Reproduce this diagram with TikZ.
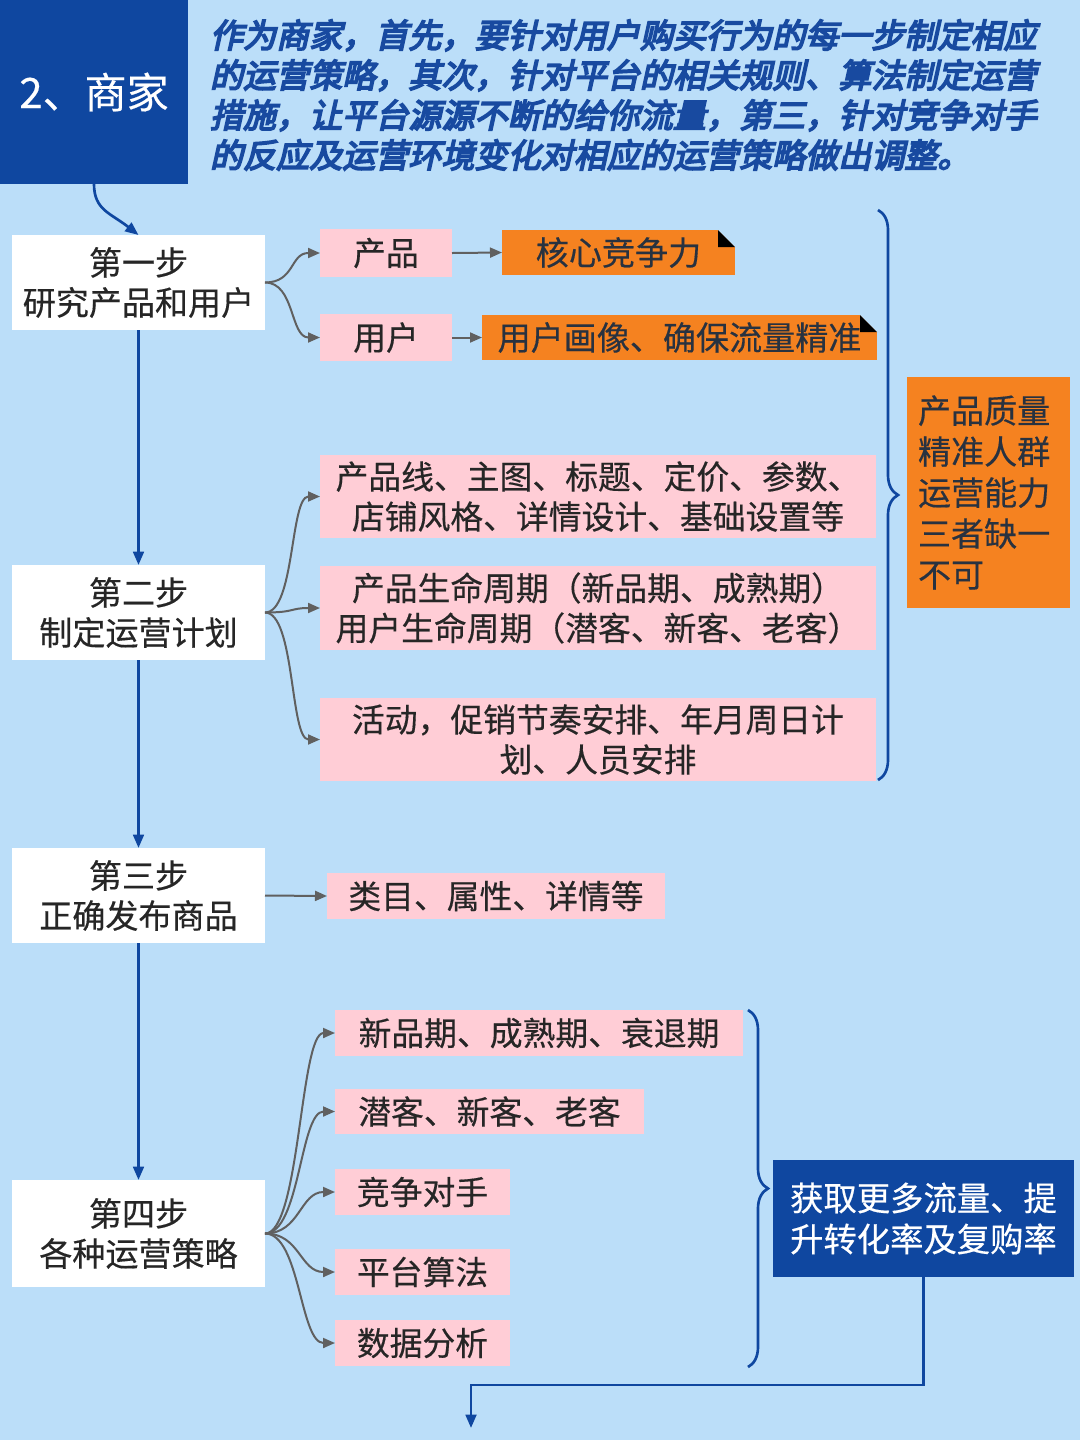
\documentclass[tikz,border=0pt]{standalone}
\usepackage{fontspec}
\newfontfamily\cjk{Noto Sans CJK SC}[FakeBold=0.4]
\newfontfamily\cjkhead{Noto Sans CJK SC}[FakeBold=5,FakeSlant=0.22]
\usetikzlibrary{arrows.meta,decorations.pathreplacing}
\newdimen\px \px=0.75pt
\definecolor{bgblue}{RGB}{187,222,249}
\definecolor{darkblue}{RGB}{15,71,160}
\definecolor{headtext}{RGB}{24,74,160}
\definecolor{pinkfill}{RGB}{255,205,214}
\definecolor{orangefill}{RGB}{245,130,32}
\definecolor{arrowgray}{RGB}{96,96,96}
\definecolor{textdark}{RGB}{38,38,38}
\definecolor{orangetext}{RGB}{40,50,64}
\tikzset{
  base/.style={inner sep=0pt, outer sep=0pt, align=center},
  hdrbox/.style={base, fill=darkblue, text=white, font=\cjk\fontsize{31.5}{36}\selectfont},
  hdrtext/.style={base, align=left, text=headtext, font=\cjkhead\fontsize{24.8}{30}\selectfont},
  stepbox/.style={base, fill=white, text=textdark, minimum width=253\px, minimum height=95\px, font=\cjk\fontsize{24.8}{30}\selectfont},
  pinkbox/.style={base, fill=pinkfill, text=textdark, font=\cjk\fontsize{24.6}{30}\selectfont},
  orangebox/.style={base, fill=orangefill, text=orangetext, font=\cjk\fontsize{24.8}{30.75}\selectfont},
  resultbox/.style={base, fill=darkblue, text=white, font=\cjk\fontsize{25}{30.75}\selectfont},
  grayarrow/.style={draw=arrowgray, line width=1.5pt, -{Triangle[length=9pt,width=7.5pt]}},
  bluearrow/.style={draw=darkblue, line width=2pt, -{Triangle[length=10pt,width=8pt]}},
  bluebrace/.style={draw=darkblue, line width=2pt, decorate, decoration={brace, amplitude=15pt, aspect=0.5}},
}
\newcommand\foldcorner[1]{%
  \fill[bgblue] (#1.north east) -- ([xshift=-17\px]#1.north east) -- ([yshift=-17\px]#1.north east) -- cycle;
  \fill[black] ([xshift=-17\px]#1.north east) -- ([yshift=-17\px]#1.north east) -- ([xshift=-17\px,yshift=-17\px]#1.north east) -- cycle;}
\begin{document}
\begin{tikzpicture}[x=0.75pt,y=-0.75pt]
\fill[bgblue] (0,0) rectangle (1080,1440);
\useasboundingbox (0,0) rectangle (1080,1440);

% header
\node[hdrbox, minimum width=188\px, minimum height=184\px] (hdr) at (94,92) {2、商家};
\node[hdrtext, anchor=west] (intro) at (210,95) {作为商家，首先，要针对用户购买行为的每一步制定相应\\的运营策略，其次，针对平台的相关规则、算法制定运营\\措施，让平台源源不断的给你流量，第三，针对竞争对手\\的反应及运营环境变化对相应的运营策略做出调整。};

% steps
\node[stepbox] (s1) at (138.5,282.5) {第一步\\研究产品和用户};
\node[stepbox] (s2) at (138.5,612.5) {第二步\\制定运营计划};
\node[stepbox] (s3) at (138.5,895.5) {第三步\\正确发布商品};
\node[stepbox, minimum height=107\px] (s4) at (138.5,1233.5) {第四步\\各种运营策略};

% step 1 branch
\node[pinkbox, minimum width=132\px, minimum height=48\px] (p1) at (386,253) {产品};
\node[pinkbox, minimum width=132\px, minimum height=47\px] (p2) at (386,337.5) {用户};
\node[orangebox, minimum width=233\px, minimum height=45\px] (o1) at (618.5,252.5) {核心竞争力};
\node[orangebox, minimum width=395\px, minimum height=45\px] (o2) at (679.5,337.5) {用户画像、确保流量精准};
\foldcorner{o1}
\foldcorner{o2}

% step 2 branch
\node[pinkbox, minimum width=556\px, minimum height=83\px] (q1) at (598,496.5) {产品线、主图、标题、定价、参数、\\店铺风格、详情设计、基础设置等};
\node[pinkbox, minimum width=556\px, minimum height=84\px] (q2) at (598,608) {产品生命周期（新品期、成熟期）\\用户生命周期（潜客、新客、老客）};
\node[pinkbox, minimum width=556\px, minimum height=83\px] (q3) at (598,739.5) {活动，促销节奏安排、年月周日计\\划、人员安排};

\node[orangebox, align=left, text width=141\px, minimum height=231\px, inner xsep=11\px] (ob) at (988.5,492.5) {产品质量\\精准人群\\运营能力\\三者缺一\\不可};

% step 3 branch
\node[pinkbox, minimum width=338\px, minimum height=46\px] (r1) at (496,896) {类目、属性、详情等};

% step 4 branch
\node[pinkbox, minimum width=408\px, minimum height=46\px] (t1) at (539,1033) {新品期、成熟期、衰退期};
\node[pinkbox, minimum width=309\px, minimum height=45\px] (t2) at (489.5,1111.5) {潜客、新客、老客};
\node[pinkbox, minimum width=175\px, minimum height=46\px] (t3) at (422.5,1192) {竞争对手};
\node[pinkbox, minimum width=175\px, minimum height=46\px] (t4) at (422.5,1272) {平台算法};
\node[pinkbox, minimum width=175\px, minimum height=46\px] (t5) at (422.5,1343) {数据分析};

\node[resultbox, minimum width=301\px, minimum height=117\px] (res) at (923.5,1218.5) {获取更多流量、提\\升转化率及复购率};

% braces
\coordinate (b1t) at (878,210);
\coordinate (b1b) at (878,780);
\draw[bluebrace] (b1t) -- (b1b);
\coordinate (b2t) at (748,1010);
\coordinate (b2b) at (748,1367);
\draw[bluebrace] (b2t) -- (b2b);

% blue flow
\draw[bluearrow] (hdr.south) .. controls +(0,26) and +(-28,-22) .. (s1.north);
\draw[bluearrow] (s1.south) -- (s2.north);
\draw[bluearrow] (s2.south) -- (s3.north);
\draw[bluearrow] (s3.south) -- (s4.north);
\coordinate (turn) at (471,1385);
\coordinate (endpt) at (471,1428);
\draw[bluearrow] (res.south) |- (turn) -- (endpt);

% gray arrows
\foreach \t in {p1,p2} \draw[grayarrow] (s1.east) .. controls +(30,0) and +(-30,0) .. (\t.west);
\draw[grayarrow] (p1.east) -- (o1.west);
\draw[grayarrow] (p2.east) -- (o2.west);
\foreach \t in {q1,q2,q3} \draw[grayarrow] (s2.east) .. controls +(30,0) and +(-30,0) .. (\t.west);
\draw[grayarrow] (s3.east) -- (r1.west);
\foreach \t in {t1,t2,t3,t4,t5} \draw[grayarrow] (s4.east) .. controls +(35,0) and +(-35,0) .. (\t.west);
\end{tikzpicture}
\end{document}
